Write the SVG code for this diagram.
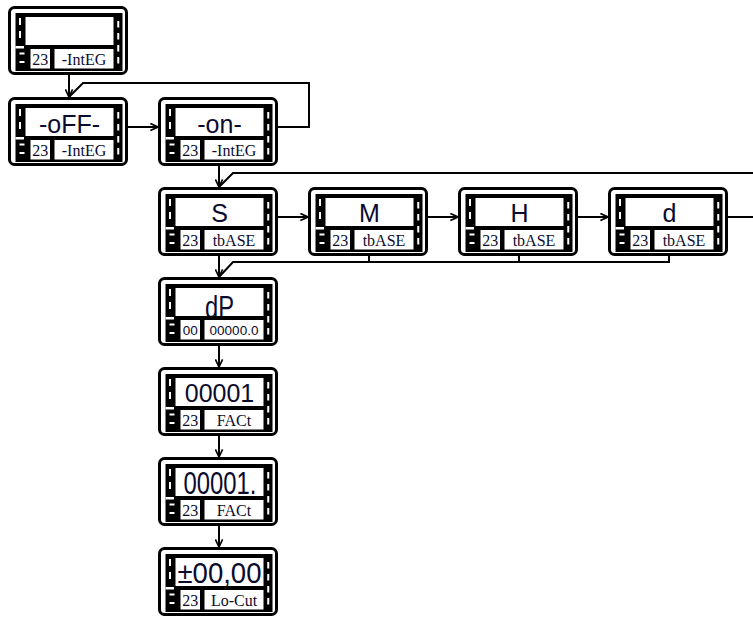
<svg xmlns="http://www.w3.org/2000/svg" xmlns:xlink="http://www.w3.org/1999/xlink" width="753" height="617" viewBox="0 0 753 617">
<style>
.frame{fill:#fff;stroke:#000;stroke-width:3}
.blk{fill:#000}
.wht{fill:#fff}
.dash{stroke:#fff;stroke-width:2;fill:none}
.disp{font-family:"Liberation Sans",Arial,sans-serif;font-size:25px;fill:#0b0b2e;text-anchor:middle;clip-path:url(#dc)}
.lab{font-family:"Liberation Serif","Times New Roman",serif;font-size:16px;fill:#0b0b2e;text-anchor:middle}
.labs{font-family:"Liberation Sans",Arial,sans-serif;font-size:13.5px;fill:#0b0b2e;text-anchor:middle}
.con{fill:none;stroke:#000;stroke-width:2}
.arr{marker-end:url(#ah)}
</style>
<defs>
<marker id="ah" viewBox="0 0 10 10" refX="9.5" refY="5" markerWidth="9" markerHeight="9" markerUnits="userSpaceOnUse" orient="auto">
<path d="M1,1 L9.5,5 L1,9" fill="none" stroke="#000" stroke-width="1.8"/>
</marker>
<clipPath id="dc"><rect x="17.5" y="11" width="88" height="28"/></clipPath>
<g id="dev">
<rect class="frame" x="1.5" y="1.5" width="117" height="66" rx="5"/>
<rect class="blk" x="7.5" y="7" width="107" height="58"/>
<rect class="wht" x="17.5" y="11" width="88" height="28"/>
<rect class="wht" x="7.5" y="40" width="8.5" height="2.5"/>
<rect class="wht" x="22.5" y="43" width="19.5" height="19.5"/>
<rect class="wht" x="46.5" y="43" width="59" height="19.5"/>
<line class="dash" x1="12" y1="12" x2="12" y2="32" stroke-dasharray="7 6"/>
<line class="dash" x1="110.25" y1="15" x2="110.25" y2="60" stroke-dasharray="6.5 5.5"/>
<line class="dash" x1="11.5" y1="47.5" x2="16.5" y2="47.5" stroke-width="1.5"/>
<line class="dash" x1="11.5" y1="56" x2="16.5" y2="56" stroke-width="1.5"/>
</g>
</defs>
<rect width="753" height="617" fill="#fff"/>
<g id="connectors">
<path class="con arr" d="M69,75 V97"/>
<path class="con" d="M278,127 H309 V83 H83 L69,97"/>
<path class="con arr" d="M128,127 H158"/>
<path class="con arr" d="M219,166 V187"/>
<path class="con" d="M728,217 H760 V173 H233 L219,187"/>
<path class="con arr" d="M278,217 H308"/>
<path class="con arr" d="M428,217 H458"/>
<path class="con arr" d="M578,217 H608"/>
<path class="con" d="M369,256 V262 M519,256 V262 M669,256 V262 H233 L219,277"/>
<path class="con arr" d="M219,256 V277"/>
<path class="con arr" d="M219,346 V367"/>
<path class="con arr" d="M219,436 V457"/>
<path class="con arr" d="M219,526 V547"/>
</g>
<g id="n1" transform="translate(8,6)"><use xlink:href="#dev"/><text class="lab" x="32.25" y="58.5">23</text><text class="lab" x="76" y="58.5">-IntEG</text></g>
<g id="n2" transform="translate(8,97)"><use xlink:href="#dev"/><text class="disp" x="61.5" y="36">-oFF-</text><text class="lab" x="32.25" y="58.5">23</text><text class="lab" x="76" y="58.5">-IntEG</text></g>
<g id="n3" transform="translate(158,97)"><use xlink:href="#dev"/><text class="disp" x="61.5" y="36">-on-</text><text class="lab" x="32.25" y="58.5">23</text><text class="lab" x="76" y="58.5">-IntEG</text></g>
<g id="n4" transform="translate(158,187)"><use xlink:href="#dev"/><text class="disp" x="61.5" y="35">S</text><text class="lab" x="32.25" y="58.5">23</text><text class="lab" x="76" y="58.5">tbASE</text></g>
<g id="n5" transform="translate(308,187)"><use xlink:href="#dev"/><text class="disp" x="61.5" y="35">M</text><text class="lab" x="32.25" y="58.5">23</text><text class="lab" x="76" y="58.5">tbASE</text></g>
<g id="n6" transform="translate(458,187)"><use xlink:href="#dev"/><text class="disp" x="61.5" y="35">H</text><text class="lab" x="32.25" y="58.5">23</text><text class="lab" x="76" y="58.5">tbASE</text></g>
<g id="n7" transform="translate(608,187)"><use xlink:href="#dev"/><text class="disp" x="61.5" y="35">d</text><text class="lab" x="32.25" y="58.5">23</text><text class="lab" x="76" y="58.5">tbASE</text></g>
<g id="n8" transform="translate(158,277)"><use xlink:href="#dev"/><text class="disp" x="61.5" y="40.5" style="font-size:32px" textLength="29" lengthAdjust="spacingAndGlyphs">dP</text><text class="labs" x="32.25" y="58">00</text><text class="labs" x="76" y="58">00000.0</text></g>
<g id="n9" transform="translate(158,367)"><use xlink:href="#dev"/><text class="disp" x="61.5" y="35">00001</text><text class="lab" x="32.25" y="58.5">23</text><text class="lab" x="76" y="58.5">FACt</text></g>
<g id="n10" transform="translate(158,457)"><use xlink:href="#dev"/><text class="disp" x="62" y="37.3" style="font-size:31px" textLength="73" lengthAdjust="spacingAndGlyphs">00001.</text><text class="lab" x="32.25" y="58.5">23</text><text class="lab" x="76" y="58.5">FACt</text></g>
<g id="n11" transform="translate(158,547)"><use xlink:href="#dev"/><text class="disp" x="61.5" y="35.5" style="font-size:30px" textLength="84" lengthAdjust="spacingAndGlyphs">±00,00</text><text class="lab" x="32.25" y="58.5">23</text><text class="lab" x="76" y="58.5">Lo-Cut</text></g>
</svg>
